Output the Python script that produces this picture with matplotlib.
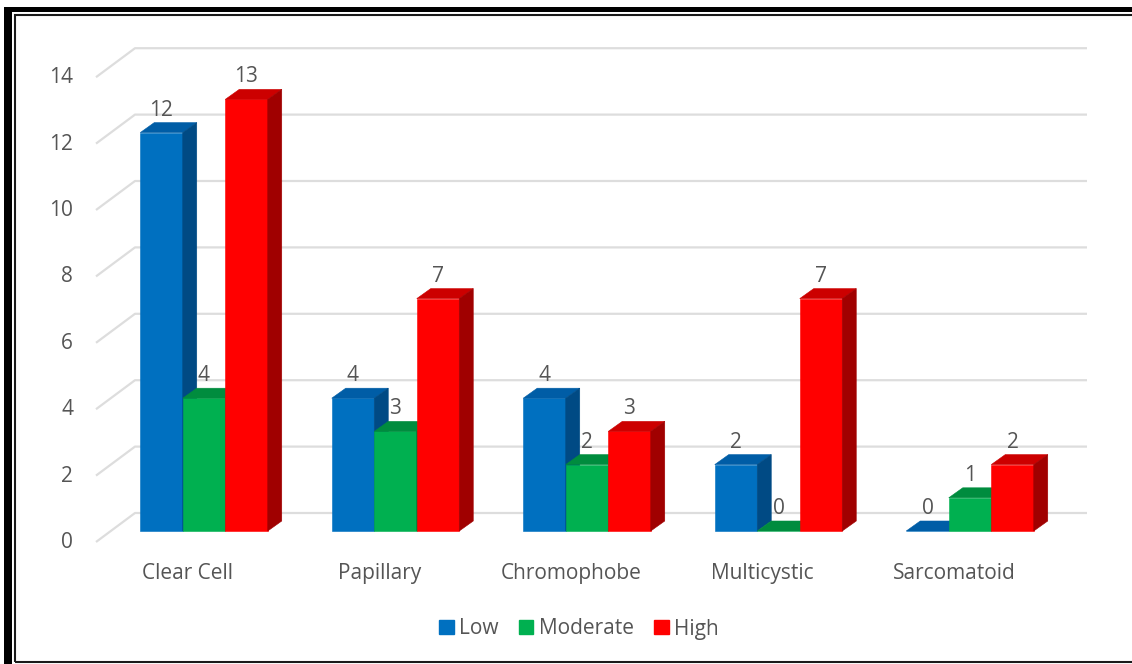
import matplotlib.pyplot as plt
from matplotlib.patches import Polygon, Rectangle, Patch

categories = ['Clear Cell', 'Papillary', 'Chromophobe', 'Multicystic', 'Sarcomatoid']
low = [12, 4, 4, 2, 0]
moderate = [4, 3, 2, 0, 1]
high = [13, 7, 3, 7, 2]
series_names = ['Low', 'Moderate', 'High']
y_ticks = [0, 2, 4, 6, 8, 10, 12, 14]

# front, top, side colours of the 3-D bars
face_colors = ['#0070C0', '#00B050', '#FF0000']
top_colors = ['#005DA6', '#008C3E', '#CC0000']
side_colors = ['#004A84', '#007535', '#A00000']
text_color = '#555555'

plt.rcParams['font.family'] = ['Open Sans', 'DejaVu Sans']
fs = 15

W, H = 1132, 664
fig = plt.figure(figsize=(W / 100, H / 100), dpi=100)
ax = fig.add_axes([0, 0, 1, 1])

# pixel layout of the original 3-D chart
px_x0, px_cat = 204, 191.5   # first group centre, pixels per category
px_y0, px_val = 531, 33.2    # floor of front plane, pixels per unit
ax.set_xlim(-px_x0 / px_cat, (W - px_x0) / px_cat)
ax.set_ylim(-(H - px_y0) / px_val, px_y0 / px_val)
ax.axis('off')

def xd(px):
    return (px - px_x0) / px_cat

bw = 42.5 / px_cat
dx, dy = 14 / px_cat, 10 / px_val
wall_dy = 18 / px_val
tick_dy = -11 / px_val

# back wall gridlines with the slanted side-wall segment
for v in y_ticks:
    ax.plot([xd(96), xd(135), xd(1087)], [v + tick_dy, v + wall_dy, v + wall_dy],
            color='#DDDDDD', lw=1.6, zorder=1, solid_capstyle='butt')
    ax.text(xd(73), v - 17 / px_val, str(v), ha='right', va='baseline',
            fontsize=fs, color=text_color)

# bars
for j, vals in enumerate([low, moderate, high]):
    for i, v in enumerate(vals):
        xl = i + (j - 1.5) * bw
        z = 3 + j
        ax.bar(xl, v, width=bw, align='edge', color=face_colors[j],
               lw=0.4, edgecolor=face_colors[j], zorder=z)
        ax.add_patch(Polygon([(xl, v), (xl + bw, v), (xl + bw + dx, v + dy), (xl + dx, v + dy)],
                             closed=True, fc=top_colors[j], ec=top_colors[j], lw=0.4, zorder=z))
        ax.add_patch(Polygon([(xl + bw, 0), (xl + bw + dx, dy), (xl + bw + dx, v + dy), (xl + bw, v)],
                             closed=True, fc=side_colors[j], ec=side_colors[j], lw=0.4, zorder=z))
        ax.text(xl + bw / 2, v + 17 / px_val, str(v), ha='center', va='baseline',
                fontsize=fs, color=text_color, zorder=10)

# category labels
for i, name in enumerate(categories):
    ax.text(i - 16 / px_cat, -48 / px_val, name, ha='center', va='baseline',
            fontsize=fs, color=text_color)

# legend
handles = [Patch(color=c, label=n) for c, n in zip(face_colors, series_names)]
fig.legend(handles=handles, loc='center', bbox_to_anchor=(579 / W, 1 - 629 / H),
           ncol=3, frameon=False, fontsize=fs, labelcolor=text_color,
           handlelength=0.68, handleheight=0.68, handletextpad=0.25,
           columnspacing=1.0, borderpad=0)

# double border of the chart area
def fr(x, y):
    return (x / W, 1 - y / H)

fig.add_artist(Rectangle(fr(4, 12), (W - 4) / W, 5 / H, transform=fig.transFigure,
                         fc='black', ec='none'))
fig.add_artist(Rectangle(fr(4, H), 8 / W, (H - 7) / H, transform=fig.transFigure,
                         fc='black', ec='none'))
fig.add_artist(Rectangle(fr(15, 662), (W + 20) / W, (662 - 15) / H, transform=fig.transFigure,
                         fc='none', ec='#1a1a1a', lw=1.5))

fig.savefig('out.png', dpi=100)
